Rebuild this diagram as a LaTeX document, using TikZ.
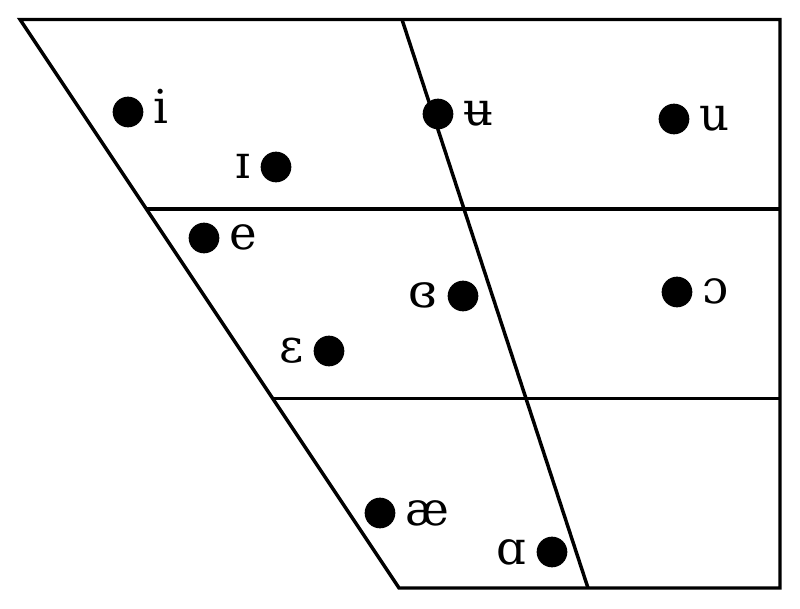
\documentclass[tikz,border=0pt]{standalone}
\usepackage{fontspec}
\setmainfont{DejaVu Serif}
\usetikzlibrary{positioning,calc}

\begin{document}
\begin{tikzpicture}[x=0.75pt, y=-0.75pt, line width=2.6pt,
        vowel/.style={circle, fill=black, inner sep=0pt, minimum size=23pt},
        sym/.style={font=\fontsize{35}{40}\selectfont, inner sep=0pt, text height=18pt, text depth=0pt},
        node distance=5pt]
    \useasboundingbox (0,0) rectangle (800,609);

    % chart outline
    \coordinate (tl) at (20,19.5);
    \coordinate (tr) at (780,19.5);
    \coordinate (br) at (780,588);
    \coordinate (bl) at (399,588);
    \coordinate (mt) at (402,19.5);
    \coordinate (mb) at (588,588);
    \draw[line join=miter] (tl) -- (tr) -- (br) -- (bl) -- cycle;
    \draw (mt) -- (mb);
    \draw ($(tl)!1/3!(bl)$) -- ($(tr)!1/3!(br)$);
    \draw ($(tl)!2/3!(bl)$) -- ($(tr)!2/3!(br)$);

    % vowels
    \node[vowel] (i) at (128,112) {};
    \node[sym, right=of i] {i};
    \node[vowel] (ih) at (276,167) {};
    \node[sym, left=of ih] {ɪ};
    \node[vowel] (e) at (204,238) {};
    \node[sym, right=of e] {e};
    \node[vowel] (eh) at (329,351) {};
    \node[sym, left=of eh] {ɛ};
    \node[vowel] (ae) at (380,513) {};
    \node[sym, right=of ae] {æ};
    \node[vowel] (ubar) at (438,114) {};
    \node[sym, right=of ubar] {ʉ};
    \node[vowel] (oe) at (463,296) {};
    \node[sym, left=of oe] {ɞ};
    \node[vowel] (ah) at (552,552) {};
    \node[sym, left=of ah] {ɑ};
    \node[vowel] (u) at (674,119) {};
    \node[sym, right=of u] {u};
    \node[vowel] (oh) at (677,292) {};
    \node[sym, right=of oh] {ɔ};

\end{tikzpicture}
\end{document}
